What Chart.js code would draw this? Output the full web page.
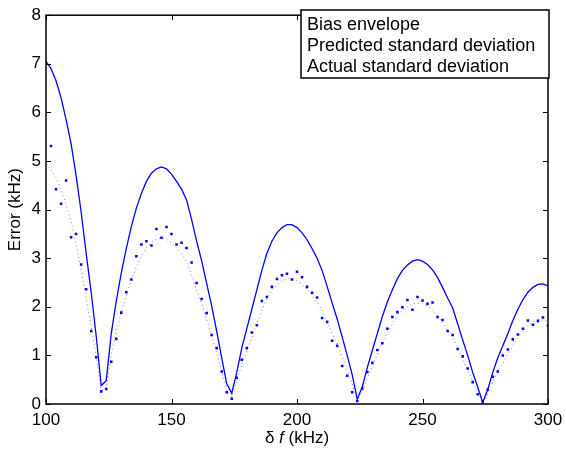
<!DOCTYPE html>
<html>
<head>
<meta charset="utf-8">
<script src="https://cdn.jsdelivr.net/npm/chart.js@4"></script>
<style>
  html, body { margin: 0; padding: 0; background: #fff; }
  #wrap { width: 566px; height: 455px; }
</style>
</head>
<body>
<div id="wrap"><canvas id="errChart" width="566" height="455"></canvas></div>
<script>
// frequency offset (kHz), one sample every 2 kHz
var freqs = [100,102,104,106,108,110,112,114,116,118,120,122,124,126,128,130,132,134,136,138,
  140,142,144,146,148,150,152,154,156,158,160,162,164,166,168,170,172,174,176,178,
  180,182,184,186,188,190,192,194,196,198,200,202,204,206,208,210,212,214,216,218,
  220,222,224,226,228,230,232,234,236,238,240,242,244,246,248,250,252,254,256,258,
  260,262,264,266,268,270,272,274,276,278,280,282,284,286,288,290,292,294,296,298,300];

var biasEnvelope = [7.05,6.9,6.65,6.3,5.85,5.35,4.7,3.95,3.1,2.3,1.4,0.38,0.48,1.45,2.12,2.7,3.2,3.65,4.03,4.33,
  4.58,4.75,4.84,4.88,4.84,4.73,4.58,4.42,4.2,3.8,3.35,2.95,2.48,2.02,1.5,0.95,0.42,0.22,0.65,1.15,
  1.55,1.95,2.35,2.75,3.1,3.35,3.52,3.63,3.69,3.69,3.63,3.52,3.38,3.2,3.0,2.75,2.42,2.08,1.75,1.38,
  1.0,0.6,0.1,0.35,0.75,1.1,1.45,1.8,2.1,2.35,2.58,2.75,2.86,2.94,2.97,2.94,2.87,2.76,2.6,2.4,
  2.18,1.98,1.65,1.32,1.0,0.65,0.35,0.03,0.3,0.65,0.95,1.2,1.45,1.72,1.95,2.15,2.3,2.4,2.46,2.47,2.43];

var predictedStd = [4.94,4.83,4.66,4.41,4.1,3.75,3.29,2.77,2.17,1.61,0.98,0.27,0.34,1.02,1.48,1.89,2.24,2.56,2.82,3.03,
  3.21,3.33,3.39,3.42,3.39,3.31,3.21,3.09,2.94,2.66,2.35,2.07,1.74,1.41,1.05,0.67,0.29,0.15,0.46,0.81,
  1.09,1.37,1.65,1.93,2.17,2.35,2.46,2.54,2.58,2.58,2.54,2.46,2.37,2.24,2.1,1.93,1.69,1.46,1.23,0.97,
  0.7,0.42,0.07,0.25,0.53,0.77,1.02,1.26,1.47,1.65,1.81,1.93,2.0,2.06,2.08,2.06,2.01,1.93,1.82,1.68,
  1.53,1.39,1.16,0.92,0.7,0.46,0.25,0.02,0.21,0.46,0.67,0.84,1.02,1.2,1.37,1.51,1.61,1.68,1.72,1.73,1.7];

var actualStd = [null,5.31,4.42,4.12,4.6,3.43,3.5,2.87,2.36,1.5,0.96,0.26,0.31,0.87,1.34,1.88,2.3,2.56,3.04,3.28,
  3.35,3.26,3.6,3.42,3.64,3.5,3.28,3.32,3.21,2.91,2.49,2.16,1.87,1.42,1.15,0.67,0.24,0.11,0.54,0.91,
  1.15,1.47,1.62,2.12,2.2,2.41,2.57,2.65,2.68,2.56,2.72,2.61,2.41,2.29,2.19,1.77,1.69,1.3,1.2,0.78,
  0.58,0.24,0.06,0.32,0.66,0.85,1.11,1.25,1.55,1.79,1.89,1.99,2.14,1.94,2.2,2.13,2.06,2.09,1.79,1.73,
  1.5,1.42,1.13,0.98,0.73,0.45,0.2,0.05,0.3,0.56,0.67,1.0,1.12,1.33,1.43,1.55,1.72,1.63,1.71,1.78,1.61];

var seriesNames = ['Bias envelope', 'Predicted standard deviation', 'Actual standard deviation'];

function toPoints(ys) {
  return freqs.map(function(f, i) { return {x: f, y: ys[i]}; });
}

var FONT = '"Liberation Sans", Arial, Helvetica, sans-serif';

// MATLAB style box, inward ticks, x label with italic f, and legend box
var axesDecor = {
  id: 'axesDecor',
  afterDatasetsDraw: function(chart) {
    var ctx = chart.ctx;
    var a = chart.chartArea;
    var xs = chart.scales.x, ys = chart.scales.y;
    ctx.save();
    ctx.strokeStyle = '#000';
    ctx.lineWidth = 1;
    ctx.beginPath();
    xs.ticks.forEach(function(t) {
      var px = Math.round(xs.getPixelForValue(t.value)) + 0.5;
      ctx.moveTo(px, a.bottom); ctx.lineTo(px, a.bottom - 5);
      ctx.moveTo(px, a.top); ctx.lineTo(px, a.top + 5);
    });
    ys.ticks.forEach(function(t) {
      var py = Math.round(ys.getPixelForValue(t.value)) + 0.5;
      ctx.moveTo(a.left, py); ctx.lineTo(a.left + 5, py);
      ctx.moveTo(a.right, py); ctx.lineTo(a.right - 5, py);
    });
    ctx.stroke();
    ctx.lineWidth = 1.5;
    ctx.strokeRect(a.left, a.top, a.right - a.left, a.bottom - a.top);

    // x axis title: δ f (kHz)
    ctx.fillStyle = '#000';
    ctx.textBaseline = 'middle';
    var parts = [['δ ', 'normal'], ['f', 'italic'], [' (kHz)', 'normal']];
    var total = 0;
    parts.forEach(function(p) {
      ctx.font = p[1] + ' 17px ' + FONT;
      total += ctx.measureText(p[0]).width;
    });
    var cx = (a.left + a.right) / 2 - total / 2;
    parts.forEach(function(p) {
      ctx.font = p[1] + ' 17px ' + FONT;
      ctx.textAlign = 'left';
      ctx.fillText(p[0], cx, 438);
      cx += ctx.measureText(p[0]).width;
    });

    // legend
    var lx = 301, ly = 10, lw = 248, lh = 68;
    ctx.fillStyle = '#fff';
    ctx.fillRect(lx, ly, lw, lh);
    ctx.lineWidth = 1.5;
    ctx.strokeRect(lx, ly, lw, lh);
    ctx.fillStyle = '#000';
    ctx.font = '18px ' + FONT;
    ctx.textAlign = 'left';
    ctx.textBaseline = 'middle';
    var rows = [25, 46, 67];
    seriesNames.forEach(function(n, i) {
      ctx.fillText(n, lx + 6, rows[i]);
    });
    ctx.restore();
  }
};

var ctx = document.getElementById('errChart').getContext('2d');
var errChart = new Chart(ctx, {
  type: 'line',
  data: {
    datasets: [
      {
        label: seriesNames[0],
        data: toPoints(biasEnvelope),
        borderColor: '#0000ff',
        borderWidth: 1.3,
        pointRadius: 0,
        tension: 0,
        fill: false
      },
      {
        label: seriesNames[1],
        data: toPoints(predictedStd),
        borderColor: 'rgba(60,60,255,0.7)',
        borderWidth: 1,
        borderDash: [1, 3],
        pointRadius: 0,
        tension: 0,
        fill: false
      },
      {
        label: seriesNames[2],
        data: toPoints(actualStd),
        showLine: false,
        pointRadius: 1.8,
        pointStyle: 'rect',
        pointBorderWidth: 0,
        pointBackgroundColor: '#0000ff',
        pointBorderColor: '#0000ff'
      }
    ]
  },
  options: {
    responsive: false,
    animation: false,
    devicePixelRatio: 1,
    layout: { padding: { left: 0, right: 18, top: 7, bottom: 0 } },
    plugins: {
      legend: { display: false },
      tooltip: { enabled: false }
    },
    scales: {
      x: {
        type: 'linear',
        min: 100,
        max: 300,
        grid: { display: false, drawTicks: false },
        border: { display: false },
        ticks: { stepSize: 50, color: '#000', padding: 6, font: { family: FONT, size: 17 } },
        afterFit: function(s) { s.height = 51; s.paddingRight = 18; }
      },
      y: {
        min: 0,
        max: 8,
        grid: { display: false, drawTicks: false },
        border: { display: false },
        ticks: { stepSize: 1, color: '#000', padding: 5, font: { family: FONT, size: 17 } },
        title: { display: true, text: 'Error (kHz)', color: '#000', padding: { top: 5, bottom: 0 }, font: { family: FONT, size: 17 } },
        afterFit: function(s) { s.width = 46; }
      }
    }
  },
  plugins: [axesDecor]
});
</script>
</body>
</html>
